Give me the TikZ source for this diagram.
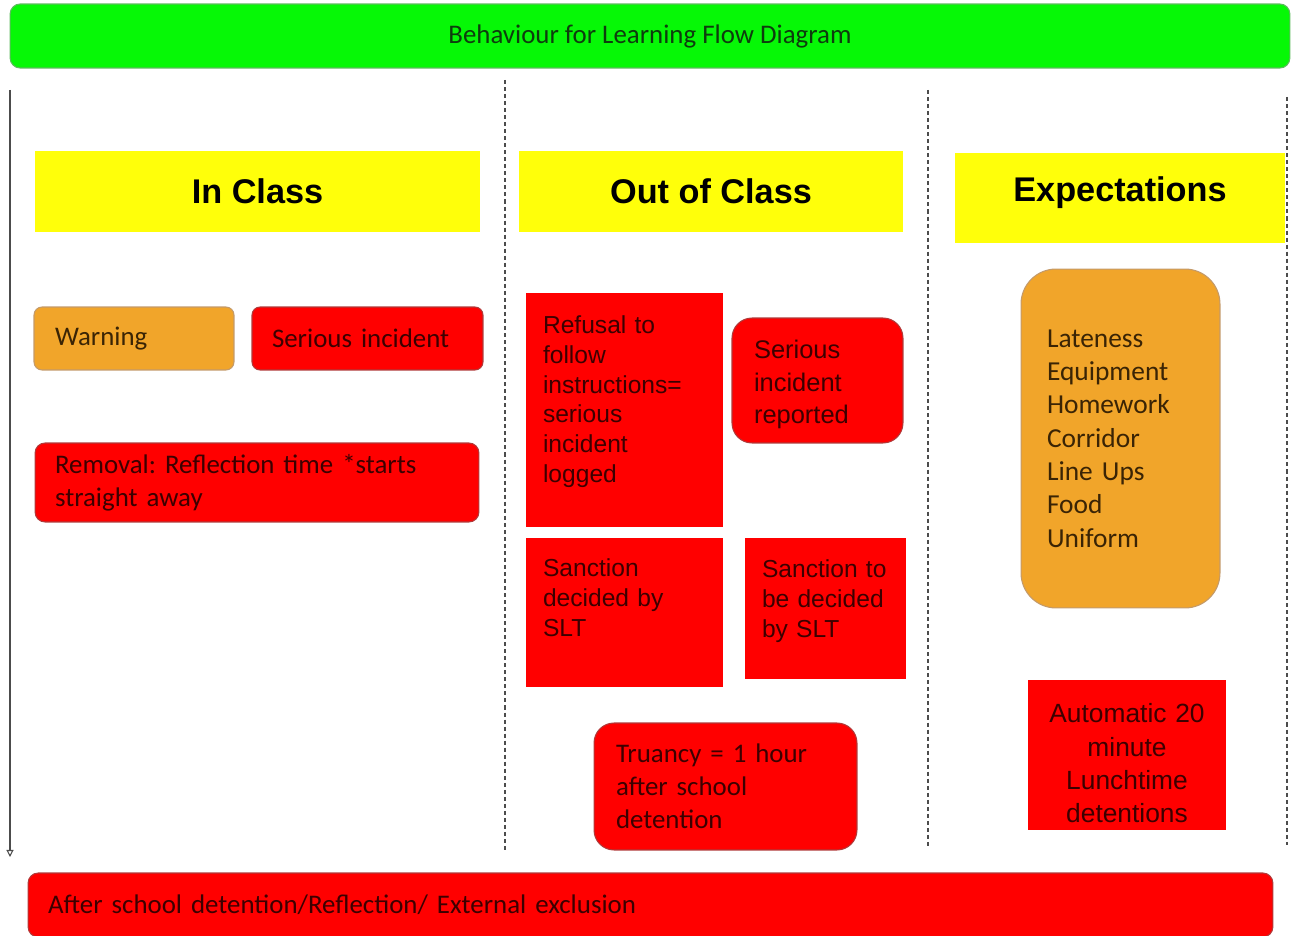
\documentclass[tikz,border=0pt]{standalone}
\usepackage{xcolor}
\usepackage{tikz}
\usepackage{fontspec}
\setmainfont{Carlito}
\newfontfamily\arialfont{Liberation Sans}
\frenchspacing
\definecolor{bflgreen}{HTML}{06F806}
\definecolor{bflgreenline}{HTML}{5DBB5D}
\definecolor{bflyellow}{HTML}{FFFF0A}
\definecolor{bflorange}{HTML}{F1A52A}
\definecolor{bflorangeline}{HTML}{C39A6A}
\definecolor{bflred}{HTML}{FF0000}
\definecolor{bflredline}{HTML}{B03A3A}
\definecolor{inkred}{HTML}{3C0000}
\definecolor{inkbrown}{HTML}{3A2405}
\definecolor{inkgreen}{HTML}{0E3D0E}
\usetikzlibrary{arrows.meta, positioning, calc}

\begin{document}
\begin{tikzpicture}[x=0.02cm, y=-0.02cm,
  header/.style={fill=bflyellow, minimum height=1.62cm,
    font=\arialfont\bfseries\fontsize{19.5}{23}\selectfont},
  redround/.style={fill=bflred, draw=bflredline, line width=0.6pt, rounded corners=0.2cm,
    text=inkred, align=left, inner xsep=0.4cm},
  redsquare/.style={fill=bflred, text=inkred, align=left, inner xsep=0.34cm,
    font=\arialfont\fontsize{14}{17}\selectfont},
  calibri/.style={font=\fontsize{15.3}{18.7}\selectfont},
  divider/.style={gray!60!black, line width=0.6pt, dash pattern=on 2.3pt off 1.7pt}
]
\useasboundingbox (0,0) rectangle (1292,936);

% Title banner
\node[fill=bflgreen, draw=bflgreenline, line width=0.6pt, rounded corners=0.2cm,
  minimum width=25.6cm, minimum height=1.28cm, text=inkgreen,
  font=\fontsize{15.3}{17}\selectfont] (title) at (650,36) {Behaviour for Learning Flow Diagram};

% Time runs down the page
\coordinate (flowtop) at (10,90);
\coordinate (flowend) at (10,857);
\draw[gray!60!black, line width=0.6pt, -{Triangle[open, length=4pt, width=4pt]}] (flowtop) -- (flowend);

% Column dividers
\foreach \name/\x/\ya/\yb in {divA/505/80/850, divB/928/90/848, divC/1287/97/845} {
  \coordinate (\name top) at (\x,\ya);
  \coordinate (\name bot) at (\x,\yb);
  \draw[divider] (\name top) -- (\name bot);
}

% Column headers
\node[header, minimum width=8.9cm] (inclass) at (257.5,191.5) {In Class};
\node[header, minimum width=7.68cm] (outclass) at (711,191.5) {Out of Class};
\node[header, minimum width=6.6cm, minimum height=1.8cm, text depth=0.36cm] (expect) at (1120,198) {Expectations};

% In class
\node[redround, calibri, fill=bflorange, draw=bflorangeline, text=inkbrown, rounded corners=0.16cm,
  inner xsep=0.42cm, text width=3.16cm, minimum height=1.26cm] (warning) at (134,338.5) {Warning};
\node[redround, calibri, rounded corners=0.16cm, text width=3.82cm, minimum height=1.26cm]
  (serious) at (367.5,338.5) {Serious incident};
\node[redround, calibri, text width=8.08cm, minimum height=1.58cm] (removal) at (257,482.5)
  {Removal: Reflection time *starts\\straight away};

% Out of class
\node[redsquare, text width=3.26cm, minimum height=4.68cm] (refusal) at (624.5,410)
  {Refusal to\\follow\\instructions=\\serious\\incident\\logged\\[-0.16cm]\mbox{}};
\node[redround, rounded corners=0.4cm, inner xsep=0.44cm, text width=2.54cm, minimum height=2.5cm,
  font=\arialfont\fontsize{14.5}{18.7}\selectfont] (reported) at (817.5,380.5)
  {\mbox{}\\[-0.13cm]Serious\\incident\\reported};
\node[redsquare, text width=3.26cm, minimum height=2.98cm] (sanctionslt) at (624.5,612.5)
  {Sanction\\decided by\\SLT\\\mbox{}};
\node[redsquare, text width=2.54cm, minimum height=2.82cm] (sanctiontbd) at (825.5,608.5)
  {Sanction to\\be decided\\by SLT\\[-0.2cm]\mbox{}};
\node[redround, calibri, rounded corners=0.4cm, inner xsep=0.44cm, text width=4.38cm,
  minimum height=2.54cm] (truancy) at (725.5,786.5)
  {Truancy = 1 hour\\after school\\detention};

% Expectations
\node[redround, fill=bflorange, draw=bflorangeline, text=inkbrown, rounded corners=0.7cm,
  inner xsep=0.52cm, text width=2.94cm, minimum height=6.78cm,
  font=\fontsize{15.6}{19}\selectfont] (rules) at (1120.5,438.5)
  {Lateness\\Equipment\\Homework\\Corridor\\Line Ups\\Food\\Uniform};
\node[redsquare, align=center, text width=3.28cm, minimum height=3cm,
  font=\arialfont\fontsize{15}{19}\selectfont] (lunchtime) at (1127,755)
  {\mbox{}\\[0.05cm]Automatic 20\\minute\\Lunchtime\\detentions};

% Final sanction
\node[redround, calibri, text width=24.1cm, minimum height=1.28cm] (exclusion) at (650.5,905)
  {After school detention/Reflection/ External exclusion};
\end{tikzpicture}
\end{document}
